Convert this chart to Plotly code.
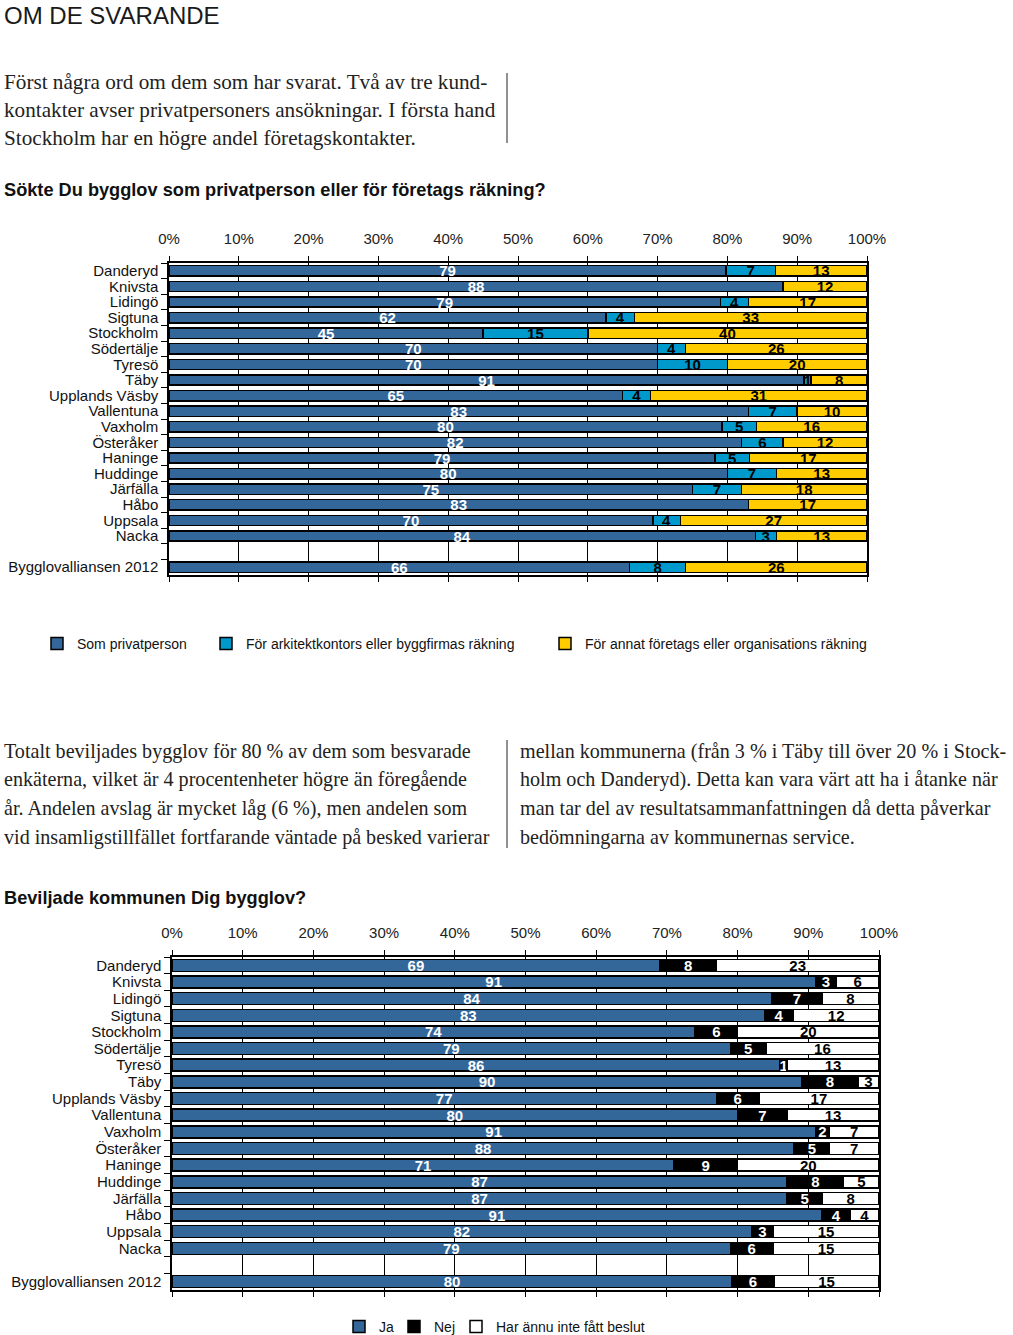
import plotly.graph_objects as go

W, H = 1013, 1335

def px_x(v):
    return v / W

def px_y(v):
    return 1 - v / H

# ---------------- data ----------------
categories = ["Danderyd", "Knivsta", "Lidingö", "Sigtuna", "Stockholm", "Södertälje",
              "Tyresö", "Täby", "Upplands Väsby", "Vallentuna", "Vaxholm", "Österåker",
              "Haninge", "Huddinge", "Järfälla", "Håbo", "Uppsala", "Nacka", " ",
              "Bygglovalliansen 2012"]

privat = [79, 88, 79, 62, 45, 70, 70, 91, 65, 83, 80, 82, 79, 80, 75, 83, 70, 84, None, 66]
arkitekt = [7, 0, 4, 4, 15, 4, 10, 1, 4, 7, 5, 6, 5, 7, 7, 0, 4, 3, None, 8]
annat = [13, 12, 17, 33, 40, 26, 20, 8, 31, 10, 16, 12, 17, 13, 18, 17, 27, 13, None, 26]

ja = [69, 91, 84, 83, 74, 79, 86, 90, 77, 80, 91, 88, 71, 87, 87, 91, 82, 79, None, 80]
nej = [8, 3, 7, 4, 6, 5, 1, 8, 6, 7, 2, 5, 9, 8, 5, 4, 3, 6, None, 6]
ej_beslut = [23, 6, 8, 12, 20, 16, 13, 3, 17, 13, 7, 7, 20, 5, 8, 4, 15, 15, None, 15]

x_ticks = [0, 10, 20, 30, 40, 50, 60, 70, 80, 90, 100]
x_tick_labels = ["0%", "10%", "20%", "30%", "40%", "50%", "60%", "70%", "80%", "90%", "100%"]

names1 = ["Som privatperson", "För arkitektkontors eller byggfirmas räkning",
          "För annat företags eller organisations räkning"]
names2 = ["Ja", "Nej", "Har ännu inte fått beslut"]

BLUE = "#336699"
CYAN = "#0099CC"
YELLOW = "#FFCC00"

SANS = "Arial, Liberation Sans, sans-serif"
SERIF = "Liberation Serif, Times New Roman, serif"

def txt(vals):
    return ["" if v is None else str(v) for v in vals]

fig = go.Figure()

series1 = [(privat, BLUE, "white"), (arkitekt, CYAN, "black"), (annat, YELLOW, "black")]
for i, ((vals, col, tcol), nm) in enumerate(zip(series1, names1)):
    fig.add_trace(go.Bar(
        y=categories, x=vals, orientation="h", name=nm,
        marker=dict(color=col, line=dict(color="black", width=1.5)),
        text=txt(vals), texttemplate="%{text}", textposition="inside",
        insidetextanchor="middle", textangle=0,
        textfont=dict(family=SANS, size=15, color=tcol, weight="bold"),
        width=0.66, xaxis="x", yaxis="y", hoverinfo="skip",
        legend="legend" if i == 0 else f"legend{i+1}", showlegend=True,
    ))

series2 = [(ja, BLUE, "white"), (nej, "black", "white"), (ej_beslut, "white", "black")]
for i, ((vals, col, tcol), nm) in enumerate(zip(series2, names2)):
    fig.add_trace(go.Bar(
        y=categories, x=vals, orientation="h", name=nm,
        marker=dict(color=col, line=dict(color="black", width=1.5)),
        text=txt(vals), texttemplate="%{text}", textposition="inside",
        insidetextanchor="middle", textangle=0,
        textfont=dict(family=SANS, size=15, color=tcol, weight="bold"),
        width=0.72, xaxis="x2", yaxis="y2", hoverinfo="skip",
        legend=f"legend{i+4}", showlegend=True,
    ))

def xaxis_cfg(x0, x1, anchor):
    return dict(domain=[px_x(x0), px_x(x1)], anchor=anchor, side="top",
                range=[0, 100], tickmode="array", tickvals=x_ticks, ticktext=x_tick_labels,
                showgrid=True, gridcolor="black", gridwidth=1,
                showline=True, linecolor="black", linewidth=1.5, mirror="ticks",
                ticks="outside", ticklen=5, tickcolor="black", tickwidth=1,
                tickfont=dict(family=SANS, size=15, color="#222"),
                ticklabelstandoff=6, zeroline=False, fixedrange=True, automargin=False)

def yaxis_cfg(y0, y1, anchor):
    return dict(domain=[px_y(y1), px_y(y0)], anchor=anchor, type="category",
                categoryorder="array", categoryarray=categories,
                range=[len(categories) - 0.5, -0.5],
                tickmode="linear", tick0=0, dtick=1,
                tickson="boundaries", ticks="outside", ticklen=6, tickcolor="black",
                showline=True, linecolor="black", linewidth=1.5, mirror=True,
                showgrid=False, tickfont=dict(family=SANS, size=15, color="#111"),
                ticklabelstandoff=6, fixedrange=True, automargin=False)

legend_base = dict(orientation="h", yanchor="middle", xanchor="left",
                   bgcolor="rgba(0,0,0,0)", font=dict(family=SANS, size=14, color="#111"),
                   itemclick=False, itemdoubleclick=False, visible=True)

leg_pos = [(74, 644), (243, 644), (582, 644), (376, 1327), (431, 1327), (493, 1327)]
legends = {}
for i, (lx, ly) in enumerate(leg_pos):
    key = "legend" if i == 0 else f"legend{i+1}"
    legends[key] = dict(legend_base, x=px_x(lx - 37), y=px_y(ly))

annotations = []

def add_text(s, x, y, size, family, color="#111", bold=False):
    annotations.append(dict(text=f"<b>{s}</b>" if bold else s, x=px_x(x), y=px_y(y),
                            xref="paper", yref="paper", xanchor="left", yanchor="middle",
                            showarrow=False, font=dict(family=family, size=size, color=color)))

add_text("OM DE SVARANDE", 2, 15, 24, SANS, color="#1a1a1a")

para1 = ["Först några ord om dem som har svarat. Två av tre kund-",
         "kontakter avser privatpersoners ansökningar. I första hand",
         "Stockholm har en högre andel företagskontakter."]
for s, y in zip(para1, [82, 110, 138]):
    add_text(s, 2, y, 21.2, SERIF, color="#222")

add_text("Sökte Du bygglov som privatperson eller för företags räkning?", 2, 190, 18.2, SANS, bold=True)

para2_left = ["Totalt beviljades bygglov för 80 % av dem som besvarade",
              "enkäterna, vilket är 4 procentenheter högre än föregående",
              "år. Andelen avslag är mycket låg (6 %), men andelen som",
              "vid insamligstillfället fortfarande väntade på besked varierar"]
para2_right = ["mellan kommunerna (från 3 % i Täby till över 20 % i Stock-",
               "holm och Danderyd). Detta kan vara värt att ha i åtanke när",
               "man tar del av resultatsammanfattningen då detta påverkar",
               "bedömningarna av kommunernas service."]
for s, y in zip(para2_left, [751, 779, 808, 837]):
    add_text(s, 2, y, 20.1, SERIF, color="#222")
for s, y in zip(para2_right, [751, 779, 808, 837]):
    add_text(s, 518, y, 20.1, SERIF, color="#222")

add_text("Beviljade kommunen Dig bygglov?", 2, 898, 18.2, SANS, bold=True)

shapes = [
    dict(type="line", xref="paper", yref="paper", x0=px_x(507), x1=px_x(507),
         y0=px_y(73), y1=px_y(143), line=dict(color="#222", width=1)),
    dict(type="line", xref="paper", yref="paper", x0=px_x(507), x1=px_x(507),
         y0=px_y(740), y1=px_y(848), line=dict(color="#222", width=1)),
]

fig.update_layout(
    width=W, height=H, margin=dict(l=0, r=0, t=0, b=0, autoexpand=False),
    paper_bgcolor="white", plot_bgcolor="white",
    barmode="stack", barnorm="percent", showlegend=True,
    xaxis=xaxis_cfg(169, 867, "y"), yaxis=yaxis_cfg(263, 575, "x"),
    xaxis2=xaxis_cfg(172, 879, "y2"), yaxis2=yaxis_cfg(957, 1290, "x2"),
    uniformtext=dict(mode="show", minsize=15),
    annotations=annotations, shapes=shapes,
    font=dict(family=SANS),
    **legends,
)

fig.write_html("out.html", config={"displayModeBar": False},
               post_script="document.body.style.margin='0px';")
